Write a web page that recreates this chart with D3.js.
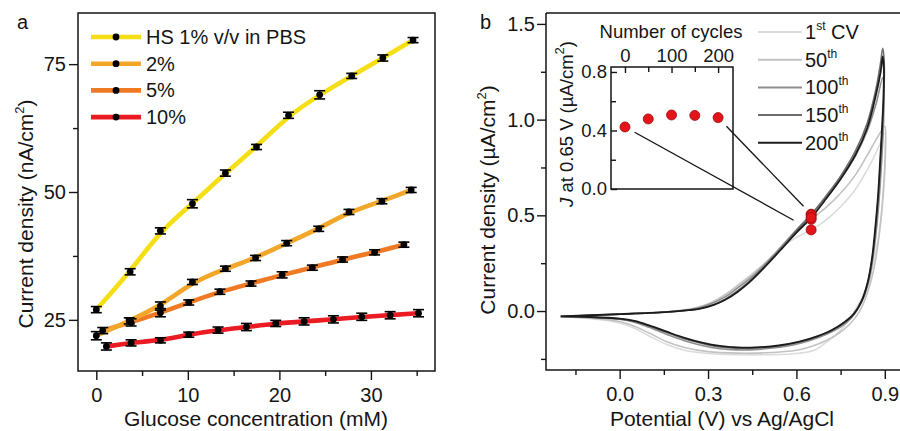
<!DOCTYPE html>
<html>
<head>
<meta charset="utf-8">
<script src="https://cdn.jsdelivr.net/npm/d3@7"></script>
<style>
body { margin: 0; background: #fff; }
svg { display: block; font-family: "Liberation Sans", Arial, sans-serif; }
</style>
</head>
<body>
<svg id="chart" width="900" height="431"></svg>
<script>
// ---- panel a: glucose response, one series per HS dilution
var seriesNames = ["HS 1% v/v in PBS", "2%", "5%", "10%"];
var seriesColors = ["#f5df14", "#f2a72a", "#f07a24", "#ea1b22"];

var hs1X = [0, 3.7, 7.0, 10.5, 14.1, 17.5, 21.0, 24.4, 27.9, 31.3, 34.6];
var hs1Y = [27.0, 34.4, 42.4, 47.7, 53.7, 58.8, 65.0, 69.0, 72.7, 76.2, 79.7];
var hs1Err = [0.6, 0.6, 0.6, 0.8, 0.6, 0.5, 0.6, 0.8, 0.5, 0.6, 0.5];

var hs2X = [0, 3.6, 7.0, 10.5, 14.1, 17.4, 20.8, 24.3, 27.6, 31.2, 34.4];
var hs2Y = [21.9, 24.8, 27.7, 32.4, 35.0, 37.1, 40.0, 42.8, 46.1, 48.2, 50.4];
var hs2Err = [0.8, 0.6, 0.8, 0.5, 0.5, 0.5, 0.5, 0.5, 0.5, 0.5, 0.5];

var hs5X = [0.7, 3.8, 7.0, 10.1, 13.5, 16.9, 20.3, 23.6, 26.9, 30.4, 33.6];
var hs5Y = [22.9, 24.5, 26.4, 28.4, 30.5, 32.1, 33.8, 35.2, 36.8, 38.2, 39.7];
var hs5Err = [0.6, 0.7, 0.8, 0.5, 0.5, 0.5, 0.6, 0.5, 0.5, 0.5, 0.5];

var hs10X = [1.1, 3.8, 7.0, 10.1, 13.3, 16.4, 19.6, 22.7, 25.9, 29.0, 32.1, 35.2];
var hs10Y = [19.8, 20.5, 21.0, 22.1, 23.0, 23.6, 24.3, 24.7, 25.1, 25.6, 25.9, 26.3];
var hs10Err = [0.7, 0.6, 0.5, 0.5, 0.6, 0.7, 0.6, 0.7, 0.7, 0.7, 0.7, 0.7];

var aXTicks = [0, 10, 20, 30];
var aXMinor = [5, 15, 25, 35];
var aYTicks = [25, 50, 75];
var aYMinor = [37.5, 62.5];

// ---- panel b: CV cycles, [potential V, current density uA/cm2]
var cvNames = ["1", "50", "100", "150", "200"];
var cvSup = ["st", "th", "th", "th", "th"];
var cvColors = ["#dcdcdc", "#c2c2c2", "#8e8e8e", "#6c6c6c", "#1c1c1c"];

var cv1 = [[-0.2,-0.030],[-0.1,-0.025],[0.0,-0.018],[0.1,-0.010],[0.2,0.002],[0.26,0.018],[0.31,0.045],[0.36,0.09],[0.40,0.135],[0.45,0.195],[0.5,0.26],[0.55,0.33],[0.6,0.385],[0.65,0.424],[0.7,0.475],[0.75,0.545],[0.8,0.635],[0.85,0.765],[0.88,0.86],[0.9,0.93],
  [0.902,0.8],[0.896,0.62],[0.885,0.45],[0.868,0.3],[0.848,0.17],[0.823,0.07],[0.797,0.0],[0.772,-0.06],[0.737,-0.12],[0.7,-0.165],[0.66,-0.205],[0.6,-0.222],[0.5,-0.228],[0.4,-0.228],[0.3,-0.222],[0.22,-0.205],[0.16,-0.175],[0.1,-0.13],[0.05,-0.09],[0.0,-0.062],[-0.1,-0.04],[-0.2,-0.030]];
var cv50 = [[-0.2,-0.029],[-0.1,-0.024],[0.0,-0.017],[0.1,-0.010],[0.2,0.001],[0.26,0.016],[0.31,0.042],[0.36,0.085],[0.40,0.13],[0.45,0.19],[0.5,0.26],[0.55,0.335],[0.6,0.41],[0.65,0.479],[0.7,0.54],[0.75,0.615],[0.8,0.71],[0.85,0.84],[0.88,0.92],[0.9,0.965],
  [0.902,0.85],[0.897,0.68],[0.888,0.5],[0.876,0.34],[0.86,0.2],[0.84,0.09],[0.815,0.0],[0.78,-0.07],[0.74,-0.12],[0.7,-0.155],[0.65,-0.185],[0.6,-0.205],[0.5,-0.218],[0.4,-0.22],[0.3,-0.212],[0.22,-0.19],[0.16,-0.16],[0.1,-0.115],[0.05,-0.08],[0.0,-0.055],[-0.1,-0.037],[-0.2,-0.029]];
var cv100 = [[-0.2,-0.028],[-0.1,-0.023],[0.0,-0.016],[0.1,-0.010],[0.2,0.0],[0.26,0.014],[0.31,0.038],[0.36,0.075],[0.40,0.12],[0.45,0.18],[0.5,0.255],[0.55,0.34],[0.6,0.425],[0.65,0.506],[0.7,0.595],[0.75,0.69],[0.8,0.81],[0.84,0.94],[0.87,1.08],[0.893,1.22],
  [0.897,1.12],[0.895,0.95],[0.89,0.8],[0.883,0.63],[0.874,0.46],[0.862,0.3],[0.848,0.17],[0.828,0.07],[0.80,-0.01],[0.77,-0.06],[0.73,-0.1],[0.68,-0.135],[0.62,-0.165],[0.55,-0.188],[0.47,-0.2],[0.4,-0.203],[0.34,-0.197],[0.28,-0.18],[0.22,-0.155],[0.16,-0.122],[0.1,-0.085],[0.05,-0.058],[0.0,-0.043],[-0.1,-0.033],[-0.2,-0.028]];
var cv150 = [[-0.2,-0.028],[-0.1,-0.022],[0.0,-0.016],[0.1,-0.01],[0.2,0.0],[0.27,0.012],[0.32,0.034],[0.36,0.063],[0.40,0.105],[0.44,0.155],[0.48,0.215],[0.55,0.33],[0.6,0.42],[0.65,0.503],[0.7,0.6],[0.75,0.705],[0.8,0.835],[0.84,0.98],[0.87,1.16],[0.885,1.29],[0.893,1.372],
  [0.898,1.3],[0.897,1.13],[0.892,0.96],[0.886,0.8],[0.879,0.62],[0.870,0.45],[0.859,0.29],[0.844,0.16],[0.823,0.06],[0.797,-0.01],[0.765,-0.055],[0.725,-0.095],[0.675,-0.13],[0.62,-0.158],[0.55,-0.18],[0.47,-0.193],[0.4,-0.195],[0.34,-0.188],[0.28,-0.17],[0.22,-0.145],[0.16,-0.112],[0.1,-0.078],[0.05,-0.054],[0.0,-0.041],[-0.1,-0.032],[-0.2,-0.028]];
var cv200 = [[-0.2,-0.028],[-0.1,-0.022],[0.0,-0.016],[0.1,-0.010],[0.2,0.0],[0.27,0.011],[0.32,0.032],[0.36,0.06],[0.40,0.10],[0.44,0.15],[0.48,0.21],[0.55,0.325],[0.6,0.41],[0.65,0.488],[0.7,0.585],[0.75,0.69],[0.8,0.815],[0.84,0.955],[0.87,1.13],[0.886,1.25],[0.893,1.33],
  [0.897,1.26],[0.895,1.1],[0.89,0.94],[0.884,0.78],[0.877,0.6],[0.868,0.44],[0.857,0.28],[0.842,0.15],[0.821,0.05],[0.795,-0.015],[0.762,-0.06],[0.72,-0.1],[0.67,-0.132],[0.61,-0.16],[0.54,-0.18],[0.46,-0.19],[0.4,-0.19],[0.34,-0.182],[0.28,-0.165],[0.22,-0.14],[0.16,-0.108],[0.1,-0.075],[0.05,-0.052],[0.0,-0.04],[-0.1,-0.031],[-0.2,-0.028]];

var bXTicks = [0, 0.3, 0.6, 0.9];
var bXMinor = [-0.15, 0.15, 0.45, 0.75];
var bYTicks = [0, 0.5, 1.0, 1.5];
var bYMinor = [-0.25, 0.25, 0.75, 1.25];

// inset: J at 0.65 V vs cycle number
var cycles = [0, 50, 100, 150, 200];
var jAt065 = [0.424, 0.479, 0.506, 0.503, 0.488];
var inXTicks = [0, 100, 200];
var inXMinor = [50, 150];
var inYTicks = [0, 0.4, 0.8];
var inYMinor = [0.2, 0.6];

var svg = d3.select("#chart");
var ink = "#151515";

function styleAxis(g, size) {
    g.select(".domain").remove();
    g.selectAll("line").attr("stroke", ink).attr("stroke-width", 1.4);
    g.selectAll("text").attr("font-size", size).attr("fill", ink).attr("font-family", "Liberation Sans, Arial, sans-serif");
}

function addCm(t, pre) {
    t.append("tspan").text(pre);
    t.append("tspan").attr("font-size", 13).attr("dy", -9).text("2");
    t.append("tspan").attr("dy", 9).text(")");
}

// ================= panel a =================
var xa = d3.scaleLinear().domain([-2, 37]).range([78, 435]);
var ya = d3.scaleLinear().domain([15, 85]).range([371, 13]);

var ga = svg.append("g");

ga.append("g").attr("transform", "translate(0,371)")
    .call(d3.axisBottom(xa).tickValues(aXTicks).tickSize(9).tickPadding(8).tickFormat(d3.format("d")))
    .call(styleAxis, 20);
ga.append("g").attr("transform", "translate(0,371)")
    .call(d3.axisBottom(xa).tickValues(aXMinor).tickSize(5).tickFormat(""))
    .call(styleAxis, 20);
ga.append("g").attr("transform", "translate(78,0)")
    .call(d3.axisLeft(ya).tickValues(aYTicks).tickSize(9).tickPadding(3))
    .call(styleAxis, 20);
ga.append("g").attr("transform", "translate(78,0)")
    .call(d3.axisLeft(ya).tickValues(aYMinor).tickSize(5).tickFormat(""))
    .call(styleAxis, 20);

var aSeries = [
    {x: hs1X, y: hs1Y, e: hs1Err},
    {x: hs2X, y: hs2Y, e: hs2Err},
    {x: hs5X, y: hs5Y, e: hs5Err},
    {x: hs10X, y: hs10Y, e: hs10Err}
].map(function (s, i) {
    return {color: seriesColors[i], pts: s.x.map(function (v, j) { return {x: v, y: s.y[j], e: s.e[j]}; })};
});

// smoothed trend line through the points
var lineA = d3.line().x(function (d) { return xa(d.x); }).y(function (d) { return ya(d.y); })
    .curve(d3.curveBasis);

// draw 10% first so lighter ones sit on top, like the original
aSeries.slice().reverse().forEach(function (s) {
    ga.append("path").attr("d", lineA(s.pts)).attr("fill", "none")
        .attr("stroke", s.color).attr("stroke-width", 4.6).attr("stroke-linecap", "round");
});

aSeries.forEach(function (s) {
    var eb = ga.append("g").selectAll("g").data(s.pts).enter().append("g");
    eb.append("line")
        .attr("x1", function (d) { return xa(d.x); }).attr("x2", function (d) { return xa(d.x); })
        .attr("y1", function (d) { return ya(d.y - d.e); }).attr("y2", function (d) { return ya(d.y + d.e); })
        .attr("stroke", "#000").attr("stroke-width", 1.5);
    [-1, 1].forEach(function (k) {
        eb.append("line")
            .attr("x1", function (d) { return xa(d.x) - 5.5; }).attr("x2", function (d) { return xa(d.x) + 5.5; })
            .attr("y1", function (d) { return ya(d.y + k * d.e); }).attr("y2", function (d) { return ya(d.y + k * d.e); })
            .attr("stroke", "#000").attr("stroke-width", 1.6);
    });
    eb.append("circle")
        .attr("cx", function (d) { return xa(d.x); }).attr("cy", function (d) { return ya(d.y); })
        .attr("r", 3.4).attr("fill", "#000");
});

ga.append("rect").attr("x", 78).attr("y", 13).attr("width", 357).attr("height", 358)
    .attr("fill", "none").attr("stroke", ink).attr("stroke-width", 1.5);

// legend a
seriesNames.forEach(function (name, i) {
    var cy = 37 + i * 26.7;
    ga.append("line").attr("x1", 91).attr("x2", 141).attr("y1", cy).attr("y2", cy)
        .attr("stroke", seriesColors[i]).attr("stroke-width", 4.6);
    ga.append("circle").attr("cx", 116).attr("cy", cy).attr("r", 3.4).attr("fill", "#000");
    ga.append("text").attr("x", 146).attr("y", cy + 7).attr("font-size", 20).attr("fill", ink).text(name);
});

ga.append("text").attr("x", 256).attr("y", 426).attr("text-anchor", "middle")
    .attr("font-size", 21).attr("fill", ink).text("Glucose concentration (mM)");
var tya = ga.append("text").attr("transform", "translate(33,214) rotate(-90)")
    .attr("text-anchor", "middle").attr("font-size", 21).attr("fill", ink);
addCm(tya, "Current density (nA/cm");

ga.append("text").attr("x", 17).attr("y", 29).attr("font-size", 20).attr("fill", ink).text("a");

// ================= panel b =================
var xb = d3.scaleLinear().domain([-0.25, 0.955]).range([546, 901]);
var yb = d3.scaleLinear().domain([-0.308, 1.557]).range([370, 13]);

var gb = svg.append("g");

gb.append("g").attr("transform", "translate(0,370)")
    .call(d3.axisBottom(xb).tickValues(bXTicks).tickSize(9).tickPadding(8).tickFormat(d3.format(".1f")))
    .call(styleAxis, 20);
gb.append("g").attr("transform", "translate(0,370)")
    .call(d3.axisBottom(xb).tickValues(bXMinor).tickSize(5).tickFormat(""))
    .call(styleAxis, 20);
gb.append("g").attr("transform", "translate(546,0)")
    .call(d3.axisLeft(yb).tickValues(bYTicks).tickSize(9).tickPadding(2).tickFormat(d3.format(".1f")))
    .call(styleAxis, 20);
gb.append("g").attr("transform", "translate(546,0)")
    .call(d3.axisLeft(yb).tickValues(bYMinor).tickSize(5).tickFormat(""))
    .call(styleAxis, 20);

var lineB = d3.line().x(function (d) { return xb(d[0]); }).y(function (d) { return yb(d[1]); })
    .curve(d3.curveCatmullRom.alpha(0.5));

[cv1, cv50, cv100, cv150, cv200].forEach(function (c, i) {
    gb.append("path").attr("d", lineB(c)).attr("fill", "none")
        .attr("stroke", cvColors[i]).attr("stroke-width", i === 4 ? 1.8 : 1.6)
        .attr("stroke-linejoin", "round");
});

gb.append("path").attr("d", "M546,13H901M546,13V370H901")
    .attr("fill", "none").attr("stroke", ink).attr("stroke-width", 1.5);

// legend b
cvNames.forEach(function (n, i) {
    var cy = 32 + i * 27.7;
    gb.append("line").attr("x1", 758).attr("x2", 802).attr("y1", cy).attr("y2", cy)
        .attr("stroke", cvColors[i]).attr("stroke-width", 2);
    var t = gb.append("text").attr("x", 805).attr("y", cy + 7).attr("font-size", 20).attr("fill", ink);
    t.append("tspan").text(n);
    t.append("tspan").attr("font-size", 12).attr("dy", -9).text(cvSup[i]);
    if (i === 0) t.append("tspan").attr("dy", 9).text(" CV");
});

// inset
var xi = d3.scaleLinear().domain([-30, 232]).range([611, 733]);
var yi = d3.scaleLinear().domain([0, 0.834]).range([189, 67]);

var gi = gb.append("g");
gi.append("rect").attr("x", 611).attr("y", 67).attr("width", 122).attr("height", 122)
    .attr("fill", "#fff").attr("stroke", ink).attr("stroke-width", 1.5);
gi.append("g").attr("transform", "translate(0,67)")
    .call(d3.axisTop(xi).tickValues(inXTicks).tickSizeInner(-6).tickSizeOuter(0).tickPadding(5))
    .call(styleAxis, 18.5);
gi.append("g").attr("transform", "translate(0,67)")
    .call(d3.axisTop(xi).tickValues(inXMinor).tickSizeInner(-5).tickSizeOuter(0).tickFormat(""))
    .call(styleAxis, 18.5);
gi.append("g").attr("transform", "translate(611,0)")
    .call(d3.axisLeft(yi).tickValues(inYTicks).tickSizeInner(-6).tickSizeOuter(0).tickPadding(4).tickFormat(d3.format(".1f")))
    .call(styleAxis, 18.5);
gi.append("g").attr("transform", "translate(611,0)")
    .call(d3.axisLeft(yi).tickValues(inYMinor).tickSizeInner(-5).tickSizeOuter(0).tickFormat(""))
    .call(styleAxis, 18.5);

gi.append("text").attr("x", 671).attr("y", 38).attr("text-anchor", "middle")
    .attr("font-size", 18.5).attr("fill", ink).text("Number of cycles");
var tyi = gi.append("text").attr("transform", "translate(573,124) rotate(-90)")
    .attr("text-anchor", "middle").attr("font-size", 18.5).attr("fill", ink);
tyi.append("tspan").attr("font-style", "italic").text("J");
addCm(tyi, " at 0.65 V (\u00b5A/cm");

gi.selectAll("circle").data(cycles).enter().append("circle")
    .attr("cx", function (d) { return xi(d); })
    .attr("cy", function (d, i) { return yi(jAt065[i]); })
    .attr("r", 5).attr("fill", "#e5131b").attr("stroke", "#9a0a0a").attr("stroke-width", 0.8);

// red markers on the CV at 0.65 V
gb.append("g").selectAll("circle").data(jAt065).enter().append("circle")
    .attr("cx", xb(0.65)).attr("cy", function (d) { return yb(d); })
    .attr("r", 5).attr("fill", "#e5131b").attr("stroke", "#9a0a0a").attr("stroke-width", 0.8);

// connector lines from inset to the markers
function connector(x0, y0, x1, y1, a, b) {
    var dx = x1 - x0, dy = y1 - y0, L = Math.sqrt(dx * dx + dy * dy);
    gb.append("line")
        .attr("x1", x0 + dx / L * a).attr("y1", y0 + dy / L * a)
        .attr("x2", x1 - dx / L * b).attr("y2", y1 - dy / L * b)
        .attr("stroke", ink).attr("stroke-width", 1.3);
}
connector(xi(cycles[0]), yi(jAt065[0]), xb(0.65), yb(jAt065[0]), 11, 20);
connector(xi(cycles[4]), yi(jAt065[4]), xb(0.65), yb(d3.max(jAt065)), 12, 11);

gb.append("text").attr("x", 722).attr("y", 426).attr("text-anchor", "middle")
    .attr("font-size", 21).attr("fill", ink).text("Potential (V) vs Ag/AgCl");
var tyb = gb.append("text").attr("transform", "translate(495,200) rotate(-90)")
    .attr("text-anchor", "middle").attr("font-size", 21).attr("fill", ink);
addCm(tyb, "Current density (\u00b5A/cm");

gb.append("text").attr("x", 480).attr("y", 29).attr("font-size", 20).attr("fill", ink).text("b");
</script>
</body>
</html>
